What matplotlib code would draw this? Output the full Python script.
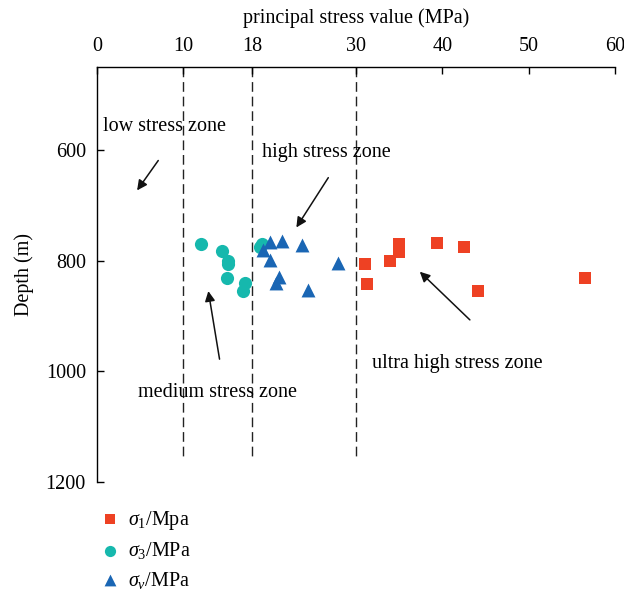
import matplotlib
matplotlib.use("Agg")
import matplotlib.pyplot as plt

plt.rcParams['font.family'] = ['Liberation Serif', 'DejaVu Serif']
plt.rcParams['mathtext.fontset'] = 'custom'
plt.rcParams['mathtext.it'] = 'Liberation Serif:italic'
plt.rcParams['mathtext.rm'] = 'Liberation Serif'

# principal stress (MPa) vs depth (m)
s1_stress = [31.0, 31.3, 33.9, 35.0, 35.0, 39.4, 42.5, 44.1, 56.5]
s1_depth = [806, 842, 801, 770, 784, 768, 775, 855, 832]

s3_stress = [12.1, 14.45, 15.2, 15.2, 15.1, 17.2, 16.9, 19.1, 18.9]
s3_depth = [770, 782, 800, 806, 832, 841, 855, 770, 775]

sv_stress = [20.05, 21.4, 19.2, 23.75, 20.05, 27.9, 21.1, 20.7, 24.4]
sv_depth = [767, 765, 781, 772, 799, 805, 829, 841, 853]

zone_bounds = [10, 18, 30]
x_ticks = [0, 10, 18, 30, 40, 50, 60]
y_ticks = [600, 800, 1000, 1200]

red = '#ee4123'
cyan = '#16b8ad'
blue = '#1a66b4'
fs = 14.5

fig = plt.figure(figsize=(6.24, 5.97), dpi=100)
ax = fig.add_axes([0.1554, 0.1926, 0.830, 0.6952])

for xb in zone_bounds:
    ax.plot([xb, xb], [450, 1157], color='#222222', lw=1.0, ls=(0, (7, 3.5)), zorder=1)

ax.scatter(s1_stress, s1_depth, marker='s', s=75, color=red, lw=0, zorder=3, label=r'$\sigma_1$/Mpa')
ax.scatter(s3_stress, s3_depth, marker='o', s=90, color=cyan, lw=0, zorder=3, label=r'$\sigma_3$/MPa')
ax.scatter(sv_stress, sv_depth, marker='^', s=100, color=blue, lw=0, zorder=3, label=r'$\sigma_v$/MPa')

ax.set_xlim(0, 60)
ax.set_ylim(1200, 450)
ax.xaxis.tick_top()
ax.xaxis.set_label_position('top')
ax.set_xticks(x_ticks)
ax.set_yticks(y_ticks)
ax.tick_params(direction='in', length=5, width=1, labelsize=fs, pad=8)
ax.set_xlabel('principal stress value (MPa)', fontsize=fs, labelpad=10)
ax.set_ylabel('Depth (m)', fontsize=fs, labelpad=8)
for side in ('right', 'bottom'):
    ax.spines[side].set_visible(False)
for side in ('top', 'left'):
    ax.spines[side].set_linewidth(1.0)

arrow = dict(arrowstyle='-|>', color='#111111', lw=1.1, mutation_scale=15, shrinkA=0, shrinkB=0)
ax.text(0.7, 557, 'low stress zone', fontsize=fs, va='center', ha='left', zorder=2)
ax.annotate('', xy=(4.65, 673), xytext=(7.1, 619), arrowprops=arrow)
ax.text(19.1, 605, 'high stress zone', fontsize=fs, va='center', ha='left', zorder=2)
ax.annotate('', xy=(23.1, 740), xytext=(26.8, 650), arrowprops=arrow)
ax.text(4.8, 1038, 'medium stress zone', fontsize=fs, va='center', ha='left', zorder=2)
ax.annotate('', xy=(12.9, 855), xytext=(14.2, 978), arrowprops=arrow)
ax.text(31.9, 985, 'ultra high stress zone', fontsize=fs, va='center', ha='left', zorder=2)
ax.annotate('', xy=(37.4, 820), xytext=(43.2, 907), arrowprops=arrow)

ax.legend(loc='upper left', bbox_to_anchor=(-0.01, -0.045), frameon=False, fontsize=fs,
          handletextpad=0.4, labelspacing=0.42, handlelength=1.0, borderaxespad=0,
          scatterpoints=1, markerscale=0.85)

fig.savefig('out.png', dpi=100)
